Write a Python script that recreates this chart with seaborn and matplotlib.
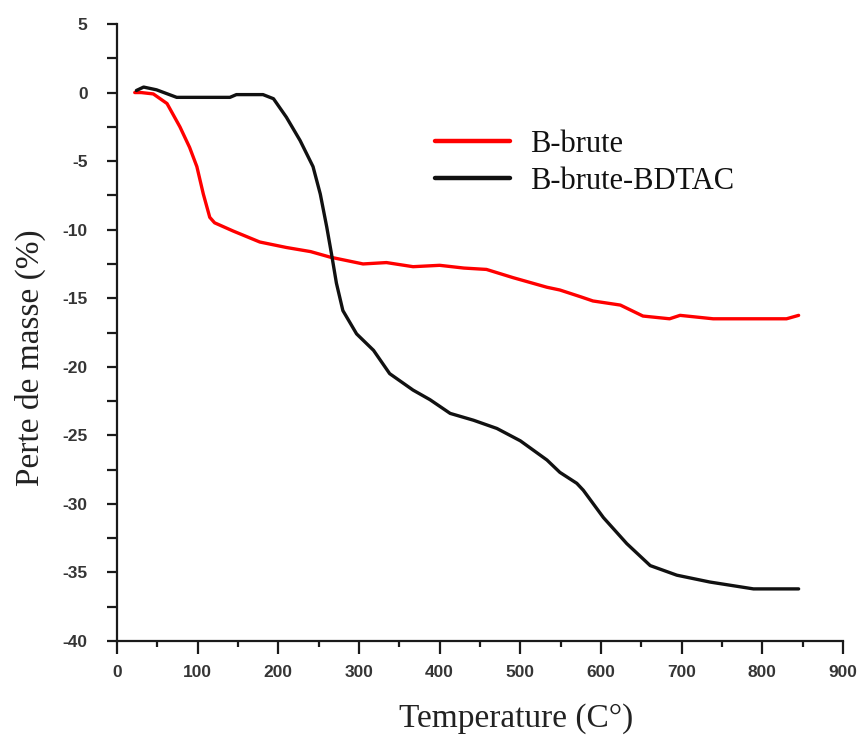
import matplotlib
matplotlib.use("Agg")
import matplotlib.pyplot as plt
from matplotlib.ticker import MultipleLocator
import pandas as pd
import seaborn as sns

# TGA curves: mass loss (%) versus temperature (°C)
temp_brute = [22, 30, 45, 62, 78, 90, 99, 107, 115, 121, 144, 177, 210, 240, 264,
              305, 334, 367, 400, 430, 458, 491, 533, 549, 575, 590, 624, 652,
              685, 698, 739, 790, 830, 845]
mass_brute = [0.0, 0.0, -0.1, -0.8, -2.5, -4.0, -5.4, -7.4, -9.1, -9.5, -10.1,
              -10.9, -11.3, -11.6, -12.0, -12.5, -12.4, -12.7, -12.6, -12.8,
              -12.9, -13.5, -14.2, -14.4, -14.9, -15.2, -15.5, -16.3, -16.5,
              -16.25, -16.5, -16.5, -16.5, -16.25]

temp_bdtac = [24, 33, 49, 74, 103, 140, 148, 181, 194, 210, 227, 243, 252, 260,
              266, 272, 280, 297, 318, 338, 367, 388, 413, 442, 471, 500, 533,
              549, 570, 578, 603, 632, 661, 694, 735, 789, 845]
mass_bdtac = [0.15, 0.4, 0.2, -0.35, -0.35, -0.35, -0.15, -0.15, -0.45, -1.8,
              -3.5, -5.4, -7.4, -9.8, -11.8, -13.9, -15.9, -17.6, -18.8, -20.5,
              -21.7, -22.4, -23.4, -23.9, -24.5, -25.4, -26.8, -27.7, -28.5,
              -29.0, -31.0, -32.9, -34.5, -35.2, -35.7, -36.2, -36.2]

series_names = ["B-brute", "B-brute-BDTAC"]
series_colors = ["#ff0000", "#111111"]

x_ticks = [0, 100, 200, 300, 400, 500, 600, 700, 800, 900]
y_ticks = [5, 0, -5, -10, -15, -20, -25, -30, -35, -40]

df = pd.concat([
    pd.DataFrame({"T": temp_brute, "m": mass_brute, "s": series_names[0]}),
    pd.DataFrame({"T": temp_bdtac, "m": mass_bdtac, "s": series_names[1]}),
])

sns.set_style("ticks")
plt.rcParams["axes.unicode_minus"] = False

fig = plt.figure(figsize=(8.57, 7.35), dpi=100)
ax = fig.add_axes([117 / 857, 1 - 641 / 735, (843 - 117) / 857, (641 - 24) / 735])

sns.lineplot(data=df, x="T", y="m", hue="s", palette=dict(zip(series_names, series_colors)),
             linewidth=2.4, sort=False, estimator=None, ax=ax)

ax.set_xlim(0, 900)
ax.set_ylim(-40, 5)
ax.set_xticks(x_ticks)
ax.set_yticks(y_ticks)
ax.xaxis.set_minor_locator(MultipleLocator(50))
ax.yaxis.set_minor_locator(MultipleLocator(2.5))

for side in ["top", "right"]:
    ax.spines[side].set_visible(False)
for side in ["left", "bottom"]:
    ax.spines[side].set_linewidth(1.6)
    ax.spines[side].set_color("#1a1a1a")

ax.tick_params(axis="both", which="both", direction="out", width=1.6, color="#1a1a1a")
ax.tick_params(axis="y", which="both", length=7.2)
ax.tick_params(axis="y", which="major", pad=14)
ax.tick_params(axis="x", which="major", length=9.4, pad=8)
ax.tick_params(axis="x", which="minor", length=4.5)
for lab in ax.get_xticklabels() + ax.get_yticklabels():
    lab.set_family("Liberation Sans")
    lab.set_fontweight("bold")
    lab.set_fontsize(12.5)
    lab.set_color("#353535")

ax.set_xlabel("Temperature (C°)", family="Liberation Serif", fontsize=24, color="#222222")
ax.set_ylabel("Perte de masse (%)", family="Liberation Serif", fontsize=24, color="#222222")
ax.xaxis.set_label_coords(0.55, (641 - 703) / 617)
ax.yaxis.set_label_coords((46 - 117) / 726, (641 - 358) / 617)

leg = ax.legend(loc="upper left", bbox_to_anchor=(0.438, 0.829), frameon=False,
                borderpad=0, borderaxespad=0,
                prop={"family": "Liberation Serif", "size": 22}, handlelength=2.45,
                handletextpad=0.65, labelspacing=0.28)
for line in leg.get_lines():
    line.set_linewidth(3.2)
for t in leg.get_texts():
    t.set_color("#111111")

fig.savefig("out.png", dpi=100)
